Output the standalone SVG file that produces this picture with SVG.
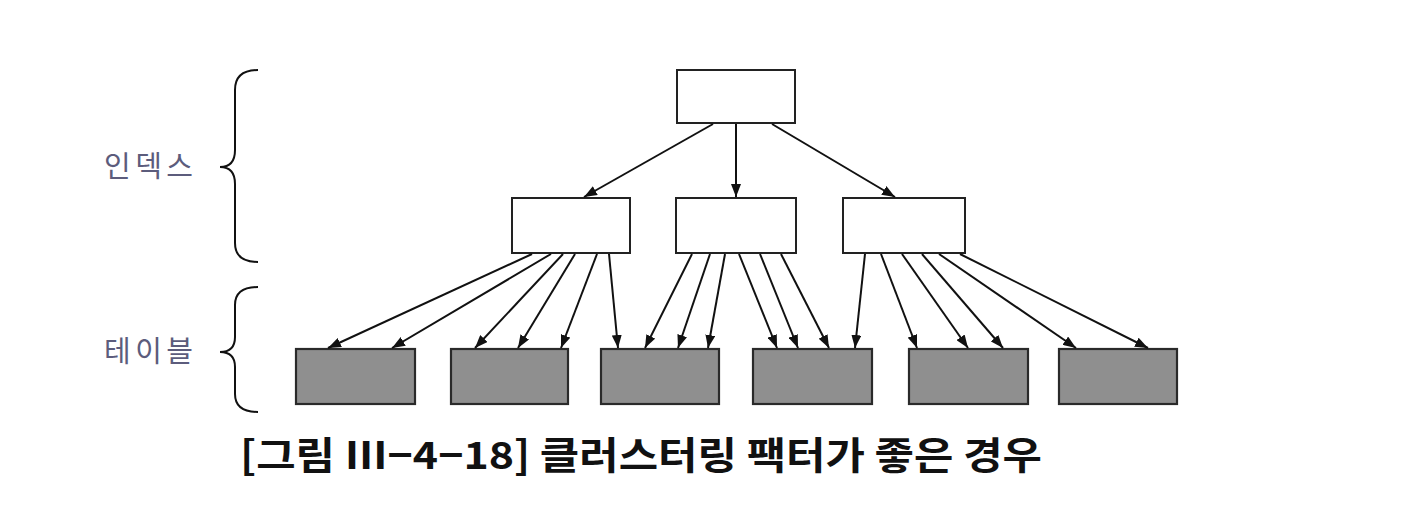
<svg xmlns="http://www.w3.org/2000/svg" width="1404" height="526" viewBox="0 0 1404 526">
  <style>
    .idx { fill: #ffffff; stroke: #222222; stroke-width: 2; }
    .tbl { fill: #8f8f8f; stroke: #2a2a2a; stroke-width: 2.2; }
    .edge { stroke: #111111; stroke-width: 2; fill: none; marker-end: url(#arrow); }
    .brace { stroke: #111111; stroke-width: 2; fill: none; }
    .side { font-family: "Noto Sans CJK KR", "Noto Sans", sans-serif; font-size: 29px; fill: #5c5c7c; }
    .caption { font-family: "Noto Sans CJK KR", "Noto Sans", sans-serif; font-size: 38px; font-weight: bold; fill: #111111; }
  </style>
  <defs>
    <marker id="arrow" markerUnits="userSpaceOnUse" markerWidth="13" markerHeight="10" viewBox="0 0 13 10" refX="13" refY="5" orient="auto">
      <path d="M0,0 L13,5 L0,10 Z" fill="#111111"/>
    </marker>
  </defs>
  <rect width="1404" height="526" fill="#ffffff"/>

  <!-- side labels and braces -->
  <g id="label-index">
    <text class="side" x="104" y="177" textLength="89" lengthAdjust="spacing">인덱스</text>
    <path class="brace" d="M258,70 Q235,70 235,90 L235,150 Q235,167 220,167 Q235,167 235,184 L235,243 Q235,262 258,262"/>
  </g>
  <g id="label-table">
    <text class="side" x="104" y="362" textLength="89" lengthAdjust="spacing">테이블</text>
    <path class="brace" d="M258,287 Q235,287 235,305 L235,337 Q235,352 220,352 Q235,352 235,367 L235,394 Q235,412 258,412"/>
  </g>

  <!-- index tree -->
  <g id="root"><rect class="idx" x="677" y="70" width="118" height="53"/></g>
  <g id="branch-1"><rect class="idx" x="512" y="198" width="118" height="55"/></g>
  <g id="branch-2"><rect class="idx" x="676" y="198" width="120" height="55"/></g>
  <g id="branch-3"><rect class="idx" x="843" y="198" width="122" height="55"/></g>

  <!-- table blocks -->
  <g id="block-1"><rect class="tbl" x="296" y="349" width="119" height="55"/></g>
  <g id="block-2"><rect class="tbl" x="451" y="349" width="117" height="55"/></g>
  <g id="block-3"><rect class="tbl" x="601" y="349" width="118" height="55"/></g>
  <g id="block-4"><rect class="tbl" x="753" y="349" width="119" height="55"/></g>
  <g id="block-5"><rect class="tbl" x="909" y="349" width="119" height="55"/></g>
  <g id="block-6"><rect class="tbl" x="1059" y="349" width="118" height="55"/></g>

  <g id="connectors">
    <!-- root to branches -->
    <line class="edge" x1="713" y1="124" x2="584" y2="197"/>
    <line class="edge" x1="736" y1="124" x2="736" y2="197"/>
    <line class="edge" x1="772" y1="124" x2="895" y2="197"/>
    <!-- branch 1 to rows -->
    <line class="edge" x1="532" y1="254" x2="328" y2="348"/>
    <line class="edge" x1="551" y1="254" x2="392" y2="348"/>
    <line class="edge" x1="563" y1="254" x2="475" y2="348"/>
    <line class="edge" x1="575" y1="254" x2="518" y2="348"/>
    <line class="edge" x1="597" y1="254" x2="561" y2="348"/>
    <line class="edge" x1="609" y1="254" x2="618" y2="348"/>
    <!-- branch 2 to rows -->
    <line class="edge" x1="692" y1="254" x2="645" y2="348"/>
    <line class="edge" x1="710" y1="254" x2="678" y2="348"/>
    <line class="edge" x1="725" y1="254" x2="708" y2="348"/>
    <line class="edge" x1="739" y1="254" x2="777" y2="348"/>
    <line class="edge" x1="760" y1="254" x2="798" y2="348"/>
    <line class="edge" x1="781" y1="254" x2="829" y2="348"/>
    <!-- branch 3 to rows -->
    <line class="edge" x1="865" y1="254" x2="855" y2="348"/>
    <line class="edge" x1="881" y1="254" x2="917" y2="348"/>
    <line class="edge" x1="902" y1="254" x2="968" y2="348"/>
    <line class="edge" x1="922" y1="254" x2="1003" y2="348"/>
    <line class="edge" x1="939" y1="254" x2="1076" y2="348"/>
    <line class="edge" x1="960" y1="254" x2="1148" y2="348"/>
  </g>

  <text class="caption" x="240" y="469" textLength="802" lengthAdjust="spacingAndGlyphs">[그림 Ⅲ−4−18] 클러스터링 팩터가 좋은 경우</text>
</svg>
